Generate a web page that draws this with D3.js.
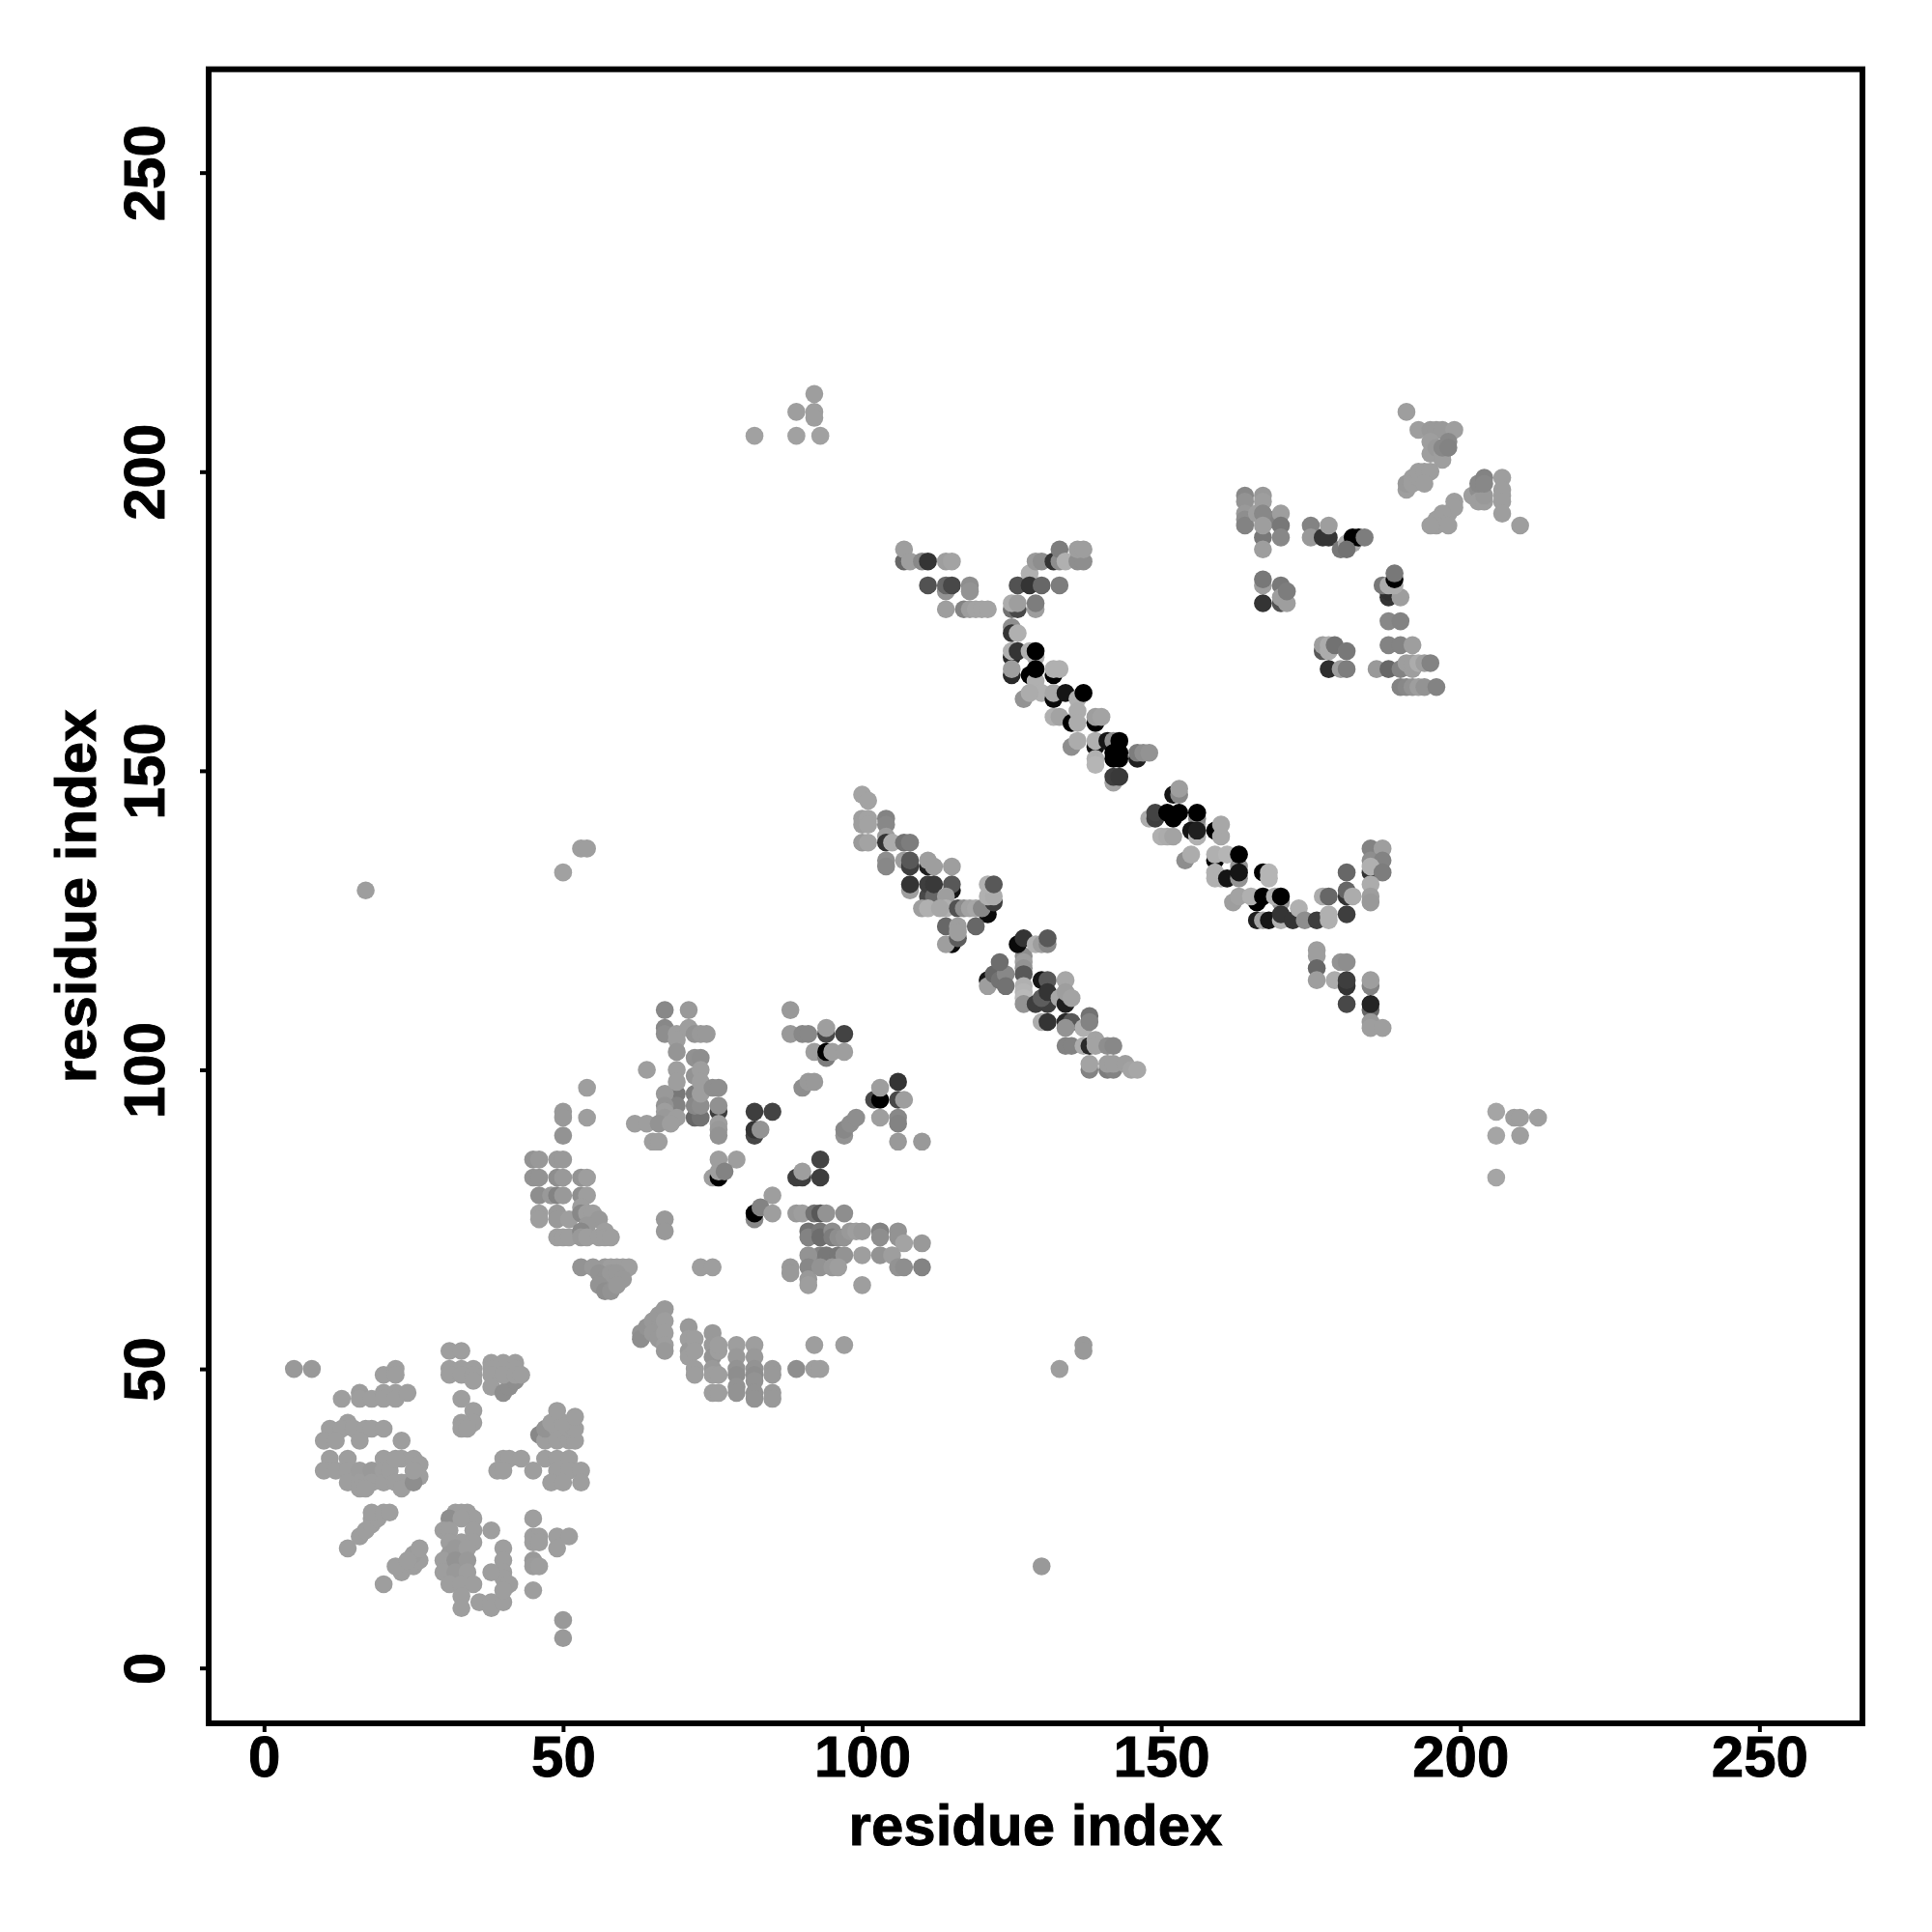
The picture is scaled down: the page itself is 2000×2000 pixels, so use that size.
<!DOCTYPE html>
<html><head><meta charset="utf-8"><style>html,body{margin:0;background:#fff}</style>
<script src="https://cdn.jsdelivr.net/npm/d3@7"></script></head><body><svg id="c" width="2000" height="2000"></svg>
<script>
const xTicks=[0,50,100,150,200,250];
const yTicks=[0,50,100,150,200,250];
const axisTitle="residue index";
// each contact: [residue x, residue y, gray level]
const isolated=[[82,206,153],[89,206,153],[89,210,150],[92,213,150],[92,210,150],[92,209,150],[93,206,153],[53,137,150],[54,137,150],[50,133,153],[17,130,150],[206,93,158],[206,89,158],[209,92,150],[210,92,150],[213,92,150],[210,89,150],[206,82,158],[133,50,150],[137,54,145],[137,53,145],[130,17,145]];
const clusterA=[[5,50,145],[8,50,145],[20,49,150],[22,50,150],[22,49,150],[13,45,150],[16,46,148],[16,45,150],[18,45,150],[20,46,150],[20,45,150],[22,46,150],[22,45,150],[24,46,150],
[11,40,150],[14,41,150],[13,40,150],[15,40,150],[17,40,150],[18,40,150],[20,40,150],[10,38,150],[12,38,150],[16,38,150],[23,38,150],
[11,35,150],[10,33,150],[12,33,150],[14,35,150],[14,33,150],[14,31,150],[16,33,148],[16,31,150],[18,33,145],[18,31,150],[20,35,150],[20,33,150],[20,31,150],[21,33,150],[23,35,150],[23,31,150],[22,35,150],[22,31,150],[24,31,150],[25,35,150],[23,30,150],[16,30,150],[17,30,150],[26,34,150],[26,32,150],[25,31,135],[25,33,150],
[14,20,150],[16,22,150],[17,23,150],[18,25,150],[18,24,150],[19,25,150],[18,26,150],[20,26,150],[21,26,150],
[20,14,150],[23,16,150],[22,17,150],[25,17,150],[26,18,150],[25,19,148],[26,20,150],[24,18,150],
[31,53,150],[33,53,150],[31,50,150],[33,50,150],[35,50,150],[31,49,150],[33,49,150],[35,49,150],[35,48,150],[38,51,150],[40,51,150],[42,51,150],[38,50,150],[40,50,150],[42,50,150],[38,49,150],[38,47,150],[40,46,135],[41,47,135],[42,48,135],[40,49,150],[42,49,150],[43,49,150],
[33,45,150],[35,43,150],[35,41,150],[33,41,150],[33,40,150],[34,40,150],
[32,26,150],[33,26,150],[34,26,150],[31,25,135],[35,25,150],[30,23,150],[33,25,150],[31,23,150],[33,21,150],[35,23,150],[31,21,150],[35,21,150],[31,19,145],[33,19,145],[30,18,150],[30,16,150],[32,20,145],[34,20,150],[32,18,140],[34,18,145],[32,16,145],[34,16,150],[31,14,150],[33,14,150],[35,14,150],[33,12,150],[33,10,150],[36,11,150],[38,11,150],[38,10,150],[40,11,150],
[38,23,150],[40,20,150],[40,18,150],[40,16,150],[40,15,150],[38,16,150],[41,14,150],[40,13,150],
[45,25,150],[45,22,150],[46,22,150],[45,21,150],[46,21,150],[49,22,150],[51,22,150],[49,20,150],[45,18,145],[45,17,148],[46,17,150],[45,13,150],[50,8,145],[50,5,145],
[46,39,130],[47,38,150],[47,40,140],[49,38,150],[51,38,150],[52,38,150],[49,40,150],[51,40,150],[52,40,150],[48,41,150],[50,41,150],[49,43,150],[52,42,150],
[40,35,150],[41,35,150],[43,35,150],[39,33,150],[40,33,150],[45,33,150],[47,35,150],[49,35,150],[51,35,150],[49,33,150],[51,33,150],[48,31,150],[50,31,150],[53,33,150],[53,31,150]];
const clusterB=[[45,85,140],[46,85,145],[49,85,145],[50,85,145],[45,82,140],[46,82,140],[49,82,135],[50,82,145],[53,82,140],[54,82,150],[46,79,135],[48,79,145],[49,79,125],[50,79,145],[53,79,135],[54,79,150],[46,76,150],[46,75,150],[49,76,145],[49,75,145],[51,75,150],[53,77,150],[53,76,130],[54,76,150],[55,76,150],[56,75,145],[54,74,145],[49,72,150],[50,72,150],[51,72,150],[53,73,130],[53,72,145],[54,72,150],[56,72,150],[57,73,150],[57,72,150],[58,72,150],
[53,67,140],[55,67,145],[57,67,145],[58,67,150],[59,67,150],[60,67,150],[61,67,150],[56,66,140],[57,65,140],[58,66,145],[59,66,145],[60,65,145],[56,64,140],[57,63,135],[58,63,140],[59,64,145],
[67,75,145],[67,73,145],[73,67,150],[75,67,150],
[67,110,130],[71,110,145],[67,107,130],[67,106,135],[69,106,150],[69,105,150],[71,107,150],[72,106,140],[73,106,145],[74,106,145],[69,103,142],[72,102,138],[73,102,135],[64,100,150],
[69,96,115],[69,94,125],[72,92,100],[73,92,110],[72,96,120],[72,94,130],[73,94,135],[67,96,145],[67,94,140],[67,93,150],[67,92,145],[69,100,150],[69,98,150],[69,92,150],[72,99,140],[73,100,150],[73,98,150],[73,96,150],[75,97,135],[76,97,135],[76,93,60],[76,94,138],[76,91,150],[76,90,145],[76,89,140],[62,91,150],[64,91,150],[66,91,140],[68,91,150],[65,88,150],[66,88,150],[54,97,150],[54,92,150],[50,93,145],[50,92,145],[50,89,140],
[82,93,60],[85,93,65],[82,89,68],[82,90,50],[83,90,140],
[88,110,145],[88,106,145],[90,106,130],[91,106,130],[94,106,70],[94,107,150],[97,106,65],[92,103,150],[94,102,120],[94,103,0],[95,103,150],[97,103,150],[90,97,135],[91,98,145],[92,98,145],
[106,98,50],[102,95,70],[103,95,0],[103,97,150],[106,95,70],[107,95,150],[103,92,150],[106,92,130],[106,91,125],[106,88,145],[110,88,145],[97,89,140],[97,90,130],[98,91,135],[99,92,135],
[76,85,150],[79,85,150],[75,82,150],[76,82,0],[76,83,150],[77,83,125],[93,85,65],[89,82,60],[90,82,60],[90,83,150],[93,82,60],
[85,79,150],[82,75,130],[82,76,0],[83,77,125],[85,76,150],
[89,76,145],[90,76,150],[92,76,110],[93,76,85],[94,76,140],[97,76,135],[91,73,110],[91,72,125],[93,73,115],[93,72,105],[95,73,135],[95,72,120],[96,72,135],[97,72,140],[98,73,145],[99,73,150],[100,73,145],[103,73,125],[103,72,135],[106,73,140],[106,72,140],[107,71,155],[110,71,145],
[93,69,125],[94,69,115],[96,69,115],[91,69,140],[97,69,140],[100,69,150],[103,69,140],[105,69,150],[106,67,140],[107,67,135],[110,67,125],[88,67,145],[88,66,145],[91,67,130],[91,65,145],[91,64,150],[93,67,140],[95,67,145],[96,67,150],[100,64,150],
[63,56,140],[63,55,135],[64,57,140],[65,58,145],[65,56,145],[66,55,145],[66,59,145],[67,60,145],[67,58,150],[67,56,150],[67,54,150],[67,53,145],
[71,57,145],[71,55,150],[71,53,145],[71,52,150],[72,55,150],[72,53,150],[75,56,145],[75,54,145],[75,52,140],[76,53,150],[76,54,150],[72,50,150],[72,49,150],[75,50,145],[75,49,150],[76,49,150],[79,54,150],[79,52,145],[82,54,150],[82,52,145],[79,50,140],[79,49,135],[79,47,140],[82,50,140],[82,49,135],[82,48,140],[85,50,145],[85,49,145],[82,46,140],[82,45,140],[85,46,145],[85,45,145],[79,46,140],[75,46,150],[76,46,150],
[92,54,150],[97,54,150],[89,50,135],[92,50,150],[93,50,150]];
const strandC=[[100,146,155],[101,145,155],[100,142,150],[100,141,150],[101,142,155],[101,141,155],[104,142,125],[104,141,130],[100,138,145],[101,138,155],[104,139,150],[104,138,50],[105,138,165],[104,135,135],[104,134,130],[107,138,110],[108,138,120],
[107,135,150],[108,134,60],[108,135,85],[111,134,30],[111,135,150],[112,134,150],[115,134,150],[108,130,150],[108,131,50],[111,129,70],[111,131,60],[112,129,100],[112,131,55],[115,130,20],[115,131,85],[114,129,150],
[110,127,150],[111,127,170],[114,127,170],[113,127,160],[116,127,80],[117,127,135],[118,127,155],[119,127,160],[121,126,10],[120,127,130],[122,128,60],[121,129,170],[122,129,165],[121,131,170],[122,131,85],
[114,124,100],[116,124,150],[119,124,100],[115,121,10],[114,121,150],[116,122,90],[116,123,150],
[121,115,20],[121,114,150],[122,116,100],[123,115,110],[124,116,130],[123,118,105],[124,114,110],[127,119,135],[127,118,150],[127,117,140],[126,121,10],[127,122,50],[129,121,170],[130,121,150],[131,121,130],[131,122,85],
[127,116,85],[127,114,170],[127,113,175],[127,112,180],[127,111,140],[130,115,20],[131,115,85],[134,115,160],[129,111,60],[131,111,60],[130,112,90],[131,113,50],[133,112,160],[134,111,30],[134,113,150],[135,112,155],
[130,108,165],[131,108,50],[134,108,40],[135,108,85],[134,107,140],[137,107,170],[138,109,110],[138,108,125],[134,104,125],[135,104,125],[137,104,165],[138,104,40],[139,105,155],[139,104,155],[141,104,135],[142,104,130],
[138,100,125],[138,101,155],[141,100,120],[142,100,125],[141,101,150],[142,101,150],[144,101,150],[145,100,155],[146,100,160]];
const strandD=[[107,185,100],[107,187,150],[108,185,150],[110,185,130],[111,185,50],[114,185,150],[115,185,155],[111,181,80],[114,180,140],[114,181,100],[115,181,70],[118,181,135],[118,180,140],[114,177,150],[117,177,125],[118,177,150],[119,177,155],[120,177,155],[121,177,155],
[125,177,110],[126,177,70],[125,178,165],[126,178,150],[126,181,80],[128,183,170],[128,181,50],[130,181,100],[133,181,120],[129,177,150],[129,178,120],
[129,185,145],[130,185,135],[132,185,50],[133,185,135],[133,187,120],[134,185,170],[136,185,135],[137,185,135],[136,187,150],[137,187,150],
[125,174,135],[125,173,50],[126,173,170],[125,169,40],[125,170,170],[126,170,50],[125,166,40],[125,167,150],[128,170,170],[129,169,170],[129,170,0],[128,166,0],[129,165,170],[129,167,0],[132,166,0],[132,167,170],[133,167,170],
[127,162,140],[130,163,170],[128,163,165],[132,162,10],[132,163,160],[134,163,20],[136,162,170],[137,163,0],
[132,159,170],[133,159,155],[135,158,0],[136,160,165],[136,158,165],[139,158,0],[139,159,150],[140,159,155],
[135,154,135],[136,155,165],[139,154,20],[139,155,170],[141,155,20],[142,155,135],[143,155,0],[139,152,170],[139,151,175],[142,152,0],[142,153,0],[143,152,0],[143,153,0],[146,152,30],[146,153,120],[147,153,135],[148,153,140],
[142,148,155],[142,149,60],[143,149,55]];
const strandE=[[148,142,165],[149,142,60],[149,143,65],[152,146,20],[153,146,130],[153,147,150],[151,143,0],[152,142,0],[153,143,0],[156,141,170],[156,142,130],[156,143,0],[150,139,170],[151,139,165],[152,139,155],
[155,140,20],[156,139,170],[156,140,30],[159,140,0],[160,139,160],[160,141,160],[154,135,135],[155,136,165],[159,135,0],[159,136,170],[161,136,175],[163,134,140],[163,136,0],[159,133,170],[159,132,170],[160,132,170],[161,132,20],[163,132,140],[163,133,20],[167,133,0],[168,133,175],[168,132,175],
[162,128,150],[163,129,155],[166,128,0],[165,129,170],[167,129,0],[170,128,140],[169,129,170],[170,129,0],[166,125,30],[167,125,155],[168,125,20],[170,125,170],[170,126,50],[172,125,50],[173,127,170],[174,125,135],
[177,129,165],[178,129,100],[176,125,60],[178,126,170],[178,125,170],[181,126,60],[181,129,50],[181,130,100],[182,129,165],[181,133,100],
[185,137,125],[187,137,150],[185,135,135],[187,135,125],[185,133,50],[185,134,170],[187,133,120],[185,131,165],[185,129,150],[185,128,145],
[176,120,150],[176,119,150],[176,117,100],[180,118,140],[181,118,135],[176,115,150],[179,115,165],[181,114,50],[181,115,60],[181,111,70],[185,114,125],[185,115,150],[185,110,100],[185,111,35],[185,108,145],[185,107,150],[187,107,150]];
const clusterF=[[164,196,130],[164,195,140],[164,193,145],[164,192,135],[164,191,125],[167,189,115],[168,192,125],[166,193,150],[167,196,145],[167,195,150],[167,193,130],[167,191,150],[167,187,150],[170,193,150],[170,191,115],[170,189,130],
[175,191,125],[175,189,145],[177,189,50],[178,189,50],[178,191,150],[180,187,115],[181,188,165],[182,188,165],[182,189,0],[183,189,0],[184,189,120],[181,187,110],
[167,181,150],[167,182,115],[170,181,115],[167,178,50],[170,178,80],[170,179,150],[171,178,150],[171,180,120],
[177,170,85],[177,171,150],[178,171,165],[178,170,165],[179,171,110],[181,170,115],[178,167,45],[180,167,150],[181,167,120],
[186,167,145],[188,167,100],[190,167,125],[188,171,125],[190,171,125],[192,171,150],[188,175,130],[190,175,125],[191,168,150],[192,167,150],[192,168,150],[193,168,165],[194,168,150],[195,168,125],[190,164,125],[191,164,130],[192,164,140],[193,164,150],[194,164,140],[196,164,125],
[188,179,50],[188,180,45],[190,179,150],[187,181,115],[188,181,165],[189,181,165],[189,182,0],[189,183,115]];
const clusterG=[[191,210,150],[193,207,150],[195,207,145],[196,207,145],[197,207,145],[199,207,150],[195,205,150],[195,203,150],[196,204,145],[197,203,150],[197,202,150],[197,204,130],[198,205,130],[198,204,125],
[191,197,150],[191,198,145],[192,199,150],[192,198,150],[193,199,150],[193,200,150],[194,200,150],[195,200,150],[194,198,150],
[207,199,150],[207,197,150],[207,196,150],[207,195,150],[207,193,150],[202,196,150],[203,197,135],[203,195,150],[204,195,150],[204,196,145],[203,198,130],[204,199,125],[204,198,130],
[199,195,150],[198,193,150],[199,194,150],[197,193,150],[196,192,150],[196,191,150],[198,191,150],[195,191,150],[210,191,150]];

const allContacts=[...isolated,...clusterA,...clusterB,...strandC,...strandD,...strandE,...clusterF,...clusterG];

const L=216,R=1928,T=71.7,B=1784;
const x=d3.scaleLinear().domain([-9.254,267.23]).range([L,R]);
const y=d3.scaleLinear().domain([-9.254,267.28]).range([B,T]);
const shade=d3.scaleLinear().domain([0,100,150,180]).range([0,103,158,185]);
const svg=d3.select("#c");
const font='"Liberation Sans",Arial,sans-serif';
svg.append("g").selectAll("circle").data(allContacts).join("circle")
 .attr("cx",d=>x(d[0])).attr("cy",d=>y(d[1])).attr("r",9.3)
 .attr("fill",d=>{const g=Math.round(shade(d[2]));return d3.rgb(g,g,g).formatHex();});
svg.append("rect").attr("x",L).attr("y",T).attr("width",R-L).attr("height",B-T).attr("fill","none").attr("stroke","#000").attr("stroke-width",6);
const gx=svg.append("g").attr("transform",`translate(0,${B})`).call(d3.axisBottom(x).tickValues(xTicks).tickSize(9).tickFormat(d3.format("d")));
const gy=svg.append("g").attr("transform",`translate(${L},0)`).call(d3.axisLeft(y).tickValues(yTicks).tickSize(9).tickFormat(d3.format("d")));
[gx,gy].forEach(g=>{g.select(".domain").remove();g.selectAll("line").attr("stroke","#000").attr("stroke-width",4);
 g.selectAll("text").attr("font-family",font).attr("font-size",60).attr("font-weight","bold").attr("fill","#000").attr("stroke","#000").attr("stroke-width",0.9);});
gx.selectAll("text").attr("dy",null).attr("y",1839-B).attr("text-anchor","middle");
gy.selectAll("text").attr("dy",null).attr("x",null).attr("text-anchor","middle").attr("transform",`translate(${170-L},0) rotate(-90)`);
svg.append("text").attr("x",(L+R)/2).attr("y",1910).attr("text-anchor","middle").attr("font-family",font).attr("font-size",60).attr("font-weight","bold").attr("stroke","#000").attr("stroke-width",0.9).text(axisTitle);
svg.append("text").attr("transform",`translate(99,${(T+B)/2}) rotate(-90)`).attr("text-anchor","middle").attr("font-family",font).attr("font-size",60).attr("font-weight","bold").attr("stroke","#000").attr("stroke-width",0.9).text(axisTitle);
</script></body></html>
